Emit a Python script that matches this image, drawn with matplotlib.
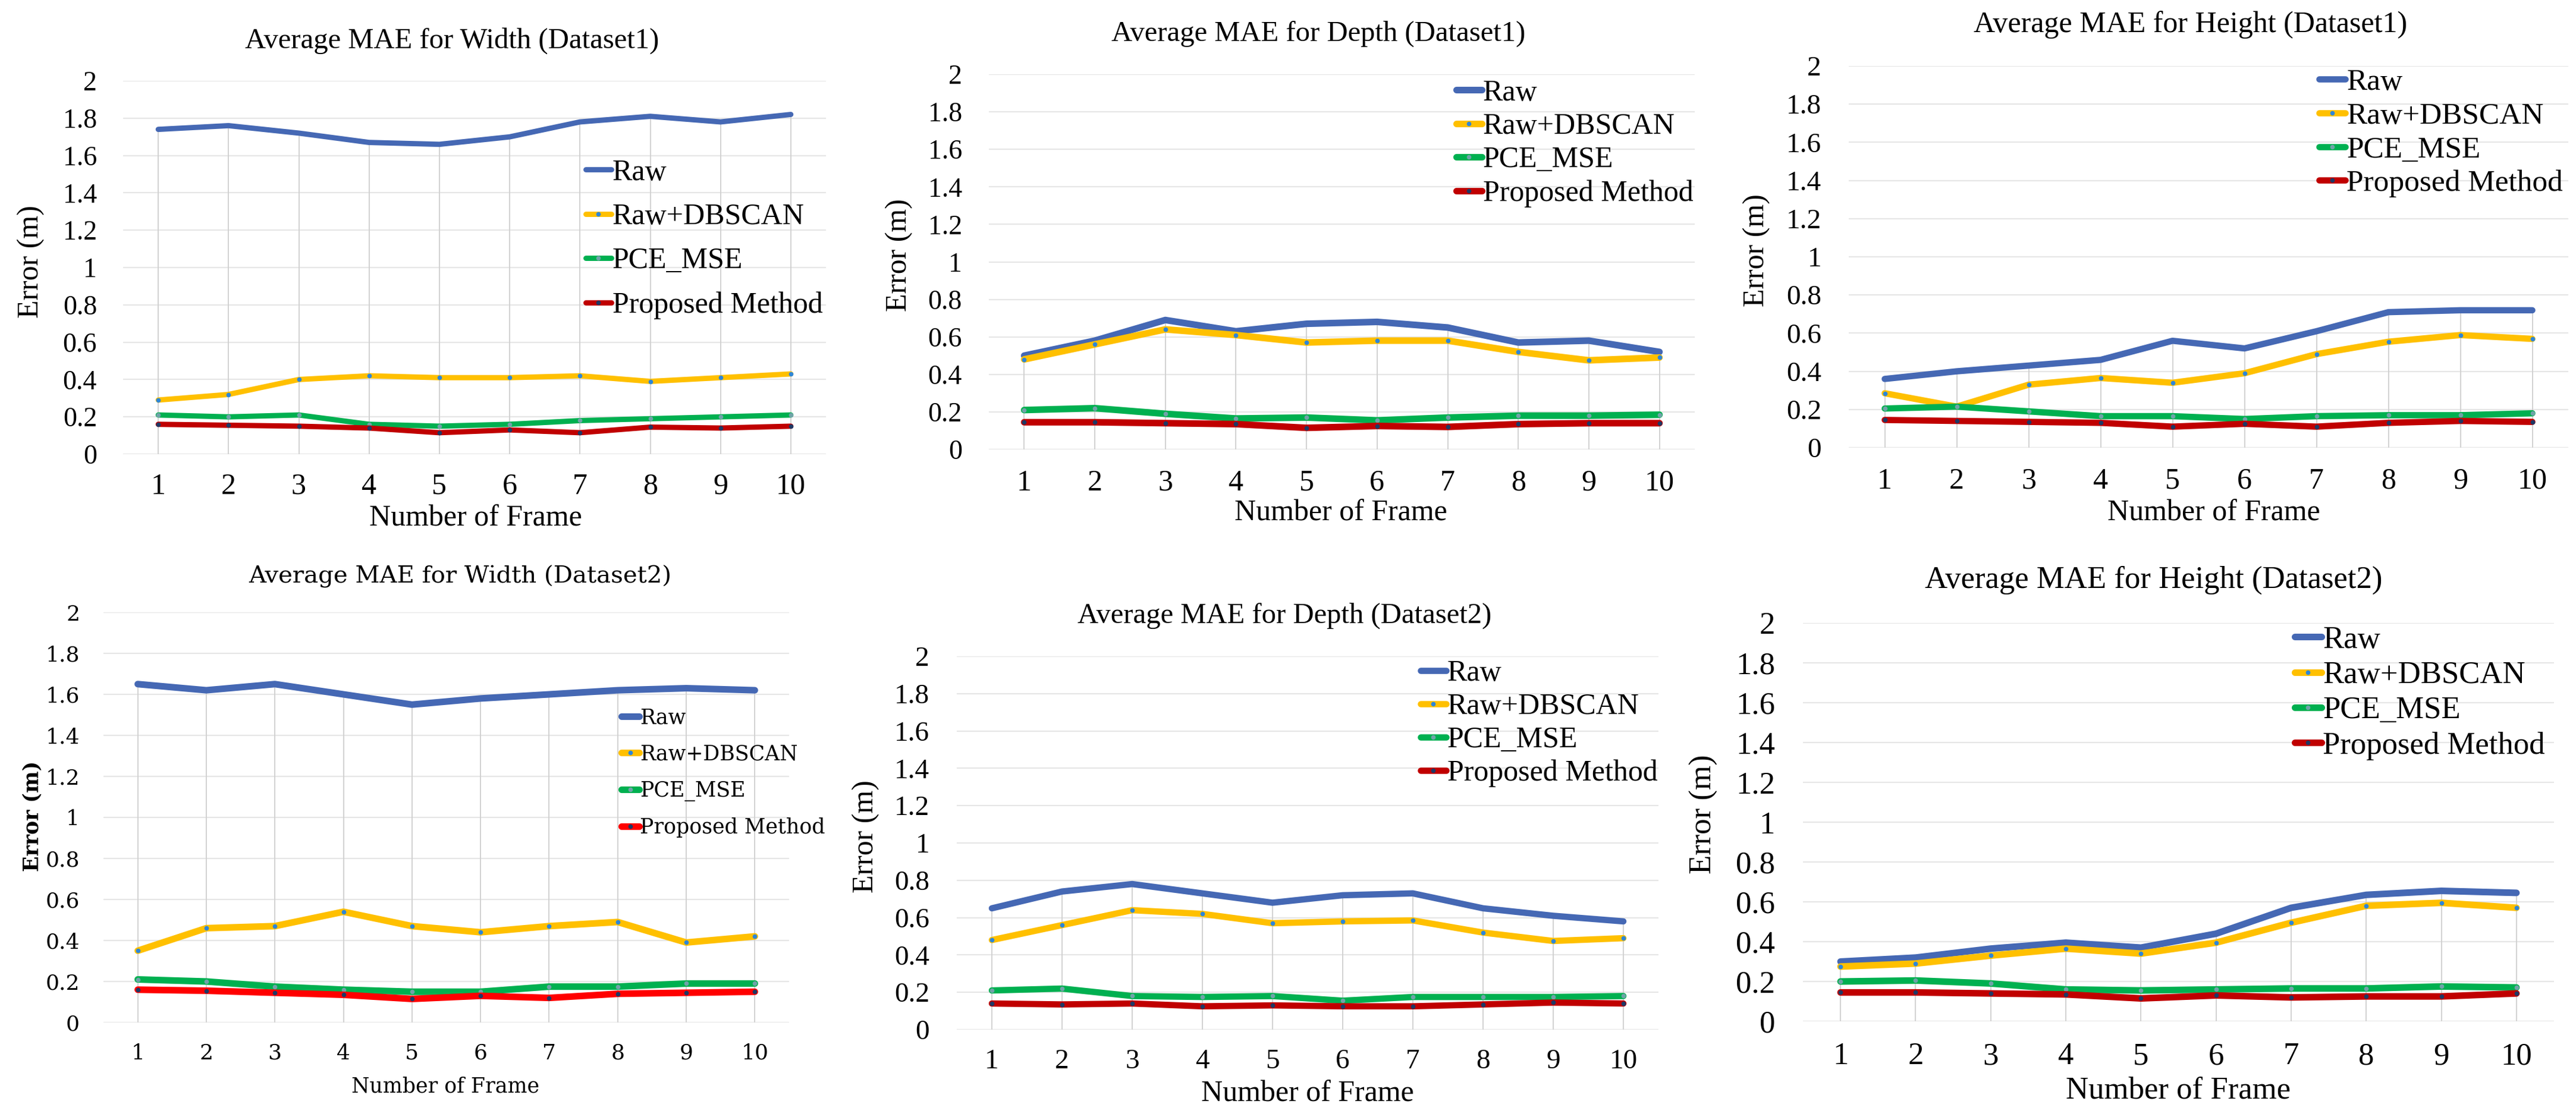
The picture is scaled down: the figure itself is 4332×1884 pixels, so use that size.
"""
Average MAE per frame for width / depth / height on two datasets,
drawn as six Excel-style line charts in a 2 x 3 layout.
"""

import matplotlib
matplotlib.use("Agg")
import matplotlib.pyplot as plt

# ---------------------------------------------------------------------------
# Data
# ---------------------------------------------------------------------------

frames = [1, 2, 3, 4, 5, 6, 7, 8, 9, 10]
y_ticks = [0, 0.2, 0.4, 0.6, 0.8, 1.0, 1.2, 1.4, 1.6, 1.8, 2.0]
y_tick_labels = ["0", "0.2", "0.4", "0.6", "0.8", "1", "1.2", "1.4", "1.6", "1.8", "2"]
series_names = ["Raw", "Raw+DBSCAN", "PCE_MSE", "Proposed Method"]

titles = [
    "Average MAE for Width (Dataset1)",
    "Average MAE for Depth (Dataset1)",
    "Average MAE for Height (Dataset1)",
    "Average MAE for Width (Dataset2)",
    "Average MAE for Depth (Dataset2)",
    "Average MAE for Height (Dataset2)",
]

width_ds1_raw = [1.74, 1.76, 1.72, 1.67, 1.66, 1.70, 1.78, 1.81, 1.78, 1.82]
width_ds1_dbscan = [0.29, 0.32, 0.40, 0.42, 0.41, 0.41, 0.42, 0.39, 0.41, 0.43]
width_ds1_pce = [0.21, 0.20, 0.21, 0.16, 0.15, 0.16, 0.18, 0.19, 0.20, 0.21]
width_ds1_proposed = [0.16, 0.155, 0.15, 0.14, 0.115, 0.13, 0.115, 0.145, 0.14, 0.15]

depth_ds1_raw = [0.50, 0.58, 0.69, 0.63, 0.67, 0.68, 0.65, 0.57, 0.58, 0.52]
depth_ds1_dbscan = [0.48, 0.56, 0.64, 0.61, 0.57, 0.58, 0.58, 0.52, 0.475, 0.49]
depth_ds1_pce = [0.21, 0.22, 0.19, 0.165, 0.17, 0.155, 0.17, 0.18, 0.18, 0.185]
depth_ds1_proposed = [0.145, 0.145, 0.14, 0.135, 0.115, 0.125, 0.12, 0.135, 0.14, 0.14]

height_ds1_raw = [0.36, 0.40, 0.43, 0.46, 0.56, 0.52, 0.61, 0.71, 0.72, 0.72]
height_ds1_dbscan = [0.285, 0.215, 0.33, 0.365, 0.34, 0.39, 0.49, 0.555, 0.59, 0.57]
height_ds1_pce = [0.205, 0.215, 0.19, 0.165, 0.165, 0.15, 0.165, 0.17, 0.17, 0.18]
height_ds1_proposed = [0.145, 0.14, 0.135, 0.13, 0.11, 0.125, 0.11, 0.13, 0.14, 0.135]

width_ds2_raw = [1.65, 1.62, 1.65, 1.60, 1.55, 1.58, 1.60, 1.62, 1.63, 1.62]
width_ds2_dbscan = [0.35, 0.46, 0.47, 0.54, 0.47, 0.44, 0.47, 0.49, 0.39, 0.42]
width_ds2_pce = [0.21, 0.20, 0.175, 0.16, 0.15, 0.15, 0.175, 0.175, 0.19, 0.19]
width_ds2_proposed = [0.16, 0.155, 0.145, 0.135, 0.115, 0.13, 0.12, 0.14, 0.145, 0.15]

depth_ds2_raw = [0.65, 0.74, 0.78, 0.73, 0.68, 0.72, 0.73, 0.65, 0.61, 0.58]
depth_ds2_dbscan = [0.48, 0.56, 0.64, 0.62, 0.57, 0.58, 0.585, 0.52, 0.475, 0.49]
depth_ds2_pce = [0.21, 0.22, 0.18, 0.175, 0.18, 0.155, 0.175, 0.175, 0.175, 0.18]
depth_ds2_proposed = [0.14, 0.135, 0.14, 0.125, 0.13, 0.125, 0.125, 0.135, 0.145, 0.14]

height_ds2_raw = [0.30, 0.32, 0.365, 0.395, 0.37, 0.44, 0.57, 0.635, 0.655, 0.645]
height_ds2_dbscan = [0.275, 0.29, 0.33, 0.365, 0.34, 0.395, 0.495, 0.58, 0.595, 0.57]
height_ds2_pce = [0.20, 0.205, 0.19, 0.16, 0.155, 0.16, 0.165, 0.165, 0.175, 0.17]
height_ds2_proposed = [0.145, 0.145, 0.14, 0.135, 0.115, 0.13, 0.12, 0.125, 0.125, 0.14]

panel_series = [
    [width_ds1_raw, width_ds1_dbscan, width_ds1_pce, width_ds1_proposed],
    [depth_ds1_raw, depth_ds1_dbscan, depth_ds1_pce, depth_ds1_proposed],
    [height_ds1_raw, height_ds1_dbscan, height_ds1_pce, height_ds1_proposed],
    [width_ds2_raw, width_ds2_dbscan, width_ds2_pce, width_ds2_proposed],
    [depth_ds2_raw, depth_ds2_dbscan, depth_ds2_pce, depth_ds2_proposed],
    [height_ds2_raw, height_ds2_dbscan, height_ds2_pce, height_ds2_proposed],
]

# ---------------------------------------------------------------------------
# Layout / style (pixel positions in the 4332 x 1884 canvas)
# ---------------------------------------------------------------------------

W, H = 4332, 1884
DPI = 100
PT = 72.0 / DPI   # px -> pt

LINE_COLORS = ["#4568B4", "#FFC000", "#00B050", "#C00000"]
MARKER_COLORS = ["#4568B4", "#2E86D8", "#6FA3A8", "#1F3864"]

SERIF = "Liberation Serif"
CAMBRIA_LIKE = "DejaVu Serif"

# axes box: left, right, top(y=2), bottom(y=0)
layout = [
    dict(box=(207, 1389, 136, 764), title=(760, 69), ylab=(52, 440), xlab=(800, 872),
         xtick_y=813, ytick_pad=44, leg=(985, 291, 76), lw=6.4, font=SERIF,
         fs_title=35, fs_tick_y=33, fs_tick_x=36, fs_lab=36, fs_leg=36, ylab_bold=False),
    dict(box=(1663, 2850, 125, 756), title=(2217, 57), ylab=(1512, 429), xlab=(2255, 863),
         xtick_y=807, ytick_pad=45, leg=(2449, 157, 58), lw=8.0, font=SERIF,
         fs_title=35, fs_tick_y=33, fs_tick_x=36, fs_lab=36, fs_leg=36, ylab_bold=False),
    dict(box=(3109, 4319, 111, 753), title=(3684, 42), ylab=(2954, 421), xlab=(3723, 863),
         xtick_y=804, ytick_pad=46, leg=(3900, 140, 59), lw=7.6, font=SERIF,
         fs_title=36, fs_tick_y=34, fs_tick_x=36, fs_lab=36, fs_leg=37, ylab_bold=False),
    dict(box=(174, 1327, 1030, 1720), title=(774, 970), ylab=(54, 1373), xlab=(749, 1828),
         xtick_y=1768, ytick_pad=40, leg=(1045, 1207, 60.5), lw=8.0, font=CAMBRIA_LIKE,
         fs_title=29, fs_tick_y=26, fs_tick_x=26, fs_lab=25, fs_leg=25, ylab_bold=True),
    dict(box=(1609, 2789, 1104, 1732), title=(2160, 1036), ylab=(1456, 1407), xlab=(2199, 1840),
         xtick_y=1781, ytick_pad=46, leg=(2389, 1134, 57.5), lw=7.6, font=SERIF,
         fs_title=35, fs_tick_y=34, fs_tick_x=34, fs_lab=36, fs_leg=36, ylab_bold=False),
    dict(box=(3032, 4295, 1048, 1718), title=(3622, 976), ylab=(2865, 1370), xlab=(3663, 1834),
         xtick_y=1772, ytick_pad=47, leg=(3859, 1078, 62), lw=8.0, font=SERIF,
         fs_title=38, fs_tick_y=38, fs_tick_x=38, fs_lab=38, fs_leg=38, ylab_bold=False),
]


def fx(px):
    return px / W


def fy(py):
    return 1 - py / H


def draw_panel(fig, idx):
    cfg = layout[idx]
    series = panel_series[idx]
    left, right, top, bottom = cfg["box"]
    ax = fig.add_axes([fx(left), fy(bottom), (right - left) / W, (bottom - top) / H])

    ax.set_xlim(0.5, 10.5)
    ax.set_ylim(0, 2)
    for side in ax.spines.values():
        side.set_visible(False)

    # horizontal gridlines
    ax.set_yticks(y_ticks)
    ax.set_yticklabels(y_tick_labels)
    ax.yaxis.grid(True, color="#E6E6E6", linewidth=1.6)
    ax.set_axisbelow(True)

    # drop lines: from the axis up to the highest series at each frame
    tops = [max(vals) for vals in zip(*series)]
    ax.vlines(frames, 0, tops, color="#CFCFCF", linewidth=1.3, zorder=1)

    colors = list(LINE_COLORS)
    if idx == 3:
        colors[3] = "#FF0000"

    handles = []
    for k, vals in enumerate(series):
        mk = "o" if k > 0 else None
        (h,) = ax.plot(frames, vals, color=colors[k], linewidth=cfg["lw"],
                       solid_capstyle="round", solid_joinstyle="round",
                       marker=mk, markersize=5.5, markerfacecolor=MARKER_COLORS[k],
                       markeredgewidth=0, zorder=2 + k, label=series_names[k])
        handles.append(h)

    ax.set_xticks(frames)
    ax.set_xticklabels([str(f) for f in frames])

    font = cfg["font"]
    ax.tick_params(axis="both", length=0)
    ax.tick_params(axis="y", pad=cfg["ytick_pad"] * PT)
    for lbl in ax.get_yticklabels():
        lbl.set_fontfamily(font)
        lbl.set_fontsize(cfg["fs_tick_y"])
    x_pad = (cfg["xtick_y"] - bottom) * PT
    ax.tick_params(axis="x", pad=x_pad)
    for lbl in ax.get_xticklabels():
        lbl.set_fontfamily(font)
        lbl.set_fontsize(cfg["fs_tick_x"])
        lbl.set_verticalalignment("center_baseline")

    # title and axis labels placed at their spots in the canvas
    tx, ty = cfg["title"]
    fig.text(fx(tx), fy(ty), titles[idx], ha="center", va="center",
             fontsize=cfg["fs_title"], family=font)
    lx, ly = cfg["ylab"]
    fig.text(fx(lx), fy(ly), "Error (m)", ha="center", va="center", rotation=90,
             fontsize=cfg["fs_lab"], family=font,
             fontweight="bold" if cfg["ylab_bold"] else "normal")
    xx, xy = cfg["xlab"]
    fig.text(fx(xx), fy(xy), "Number of Frame", ha="center", va="center",
             fontsize=cfg["fs_lab"], family=font)

    # legend
    gx, gy, gap = cfg["leg"]
    fs_leg_px = cfg["fs_leg"] / PT
    row_h = fs_leg_px * 0.96
    spacing = max(gap - row_h, 0) / fs_leg_px
    anchor_x = (gx - left) / (right - left)
    anchor_y = (bottom - (gy - row_h / 2)) / (bottom - top)
    ax.legend(handles=handles, loc="upper left", bbox_to_anchor=(anchor_x, anchor_y),
              frameon=False, borderpad=0, borderaxespad=0, handlelength=0.85,
              handletextpad=0.05, labelspacing=spacing,
              prop={"family": font, "size": cfg["fs_leg"]})
    return ax


def main():
    fig = plt.figure(figsize=(W / DPI, H / DPI), dpi=DPI, facecolor="white")
    for i in range(6):
        draw_panel(fig, i)
    fig.savefig("out.png", dpi=DPI, facecolor="white")


if __name__ == "__main__":
    main()
